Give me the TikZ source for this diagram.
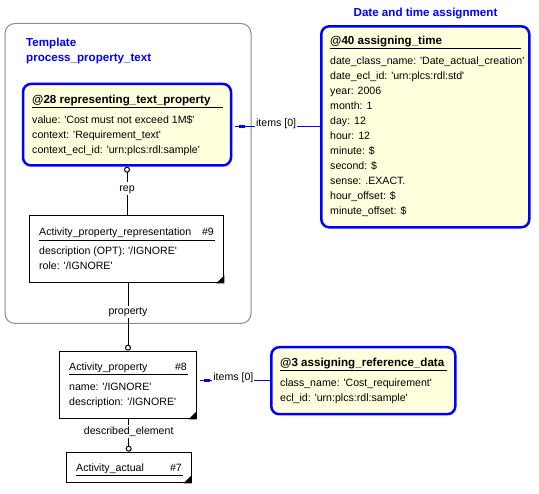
\documentclass[tikz,border=0pt]{standalone}
\usepackage{fontspec}
\setmainfont{Liberation Sans}[Ligatures=TeXOff]
\usetikzlibrary{arrows.meta}
\definecolor{instfill}{RGB}{255,255,221}
\definecolor{tmplgray}{RGB}{140,140,140}
\tikzset{
    tmpl/.style={draw=tmplgray, line width=1pt, rounded corners=10pt, inner sep=0pt},
    inst/.style={draw=blue, fill=instfill, line width=2.5pt, rounded corners=8pt, inner sep=0pt},
    ent/.style={draw=black, fill=white, line width=1pt, inner sep=0pt},
    hdr/.style={anchor=base west, inner sep=0pt, font=\fontsize{11.6}{13}\selectfont\bfseries},
    attr/.style={anchor=base west, inner sep=0pt, font=\fontsize{10.6}{12}\selectfont},
    title/.style={hdr, text=blue},
    lbl/.style={fill=white, inner sep=1pt, text height=8pt, text depth=2.5pt, font=\fontsize{10.6}{12}\selectfont},
    rel/.style={draw, line width=1pt, {Circle[open,length=6pt]}-},
    items/.style={draw=blue, line width=1pt, shorten >=3pt},
    tipsq/.style={fill=blue, inner sep=0pt, minimum width=6pt, minimum height=3pt}
}
\begin{document}
\begin{tikzpicture}[x=1pt, y=-1pt]
    \useasboundingbox (0,0) rectangle (539,494);
    % Template frame
    \node[tmpl, minimum width=246pt, minimum height=300pt] (tpl) at (128,173.5) {};
    \node[title] (tpl-a) at (26,47) {Template};
    \node[title] (tpl-b) at (26,61.5) {process\_property\_text};
    \node[title, anchor=base] (dta) at (425.5,17) {Date and time assignment};
    % Boxes
    \node[inst, minimum width=208pt, minimum height=81.5pt] (p28) at (127,124.7) {};
    \node[inst, minimum width=208pt, minimum height=201pt] (p40) at (425.3,126.8) {};
    \node[inst, minimum width=184pt, minimum height=67pt] (p3) at (363.3,380.7) {};
    \node[ent, minimum width=194pt, minimum height=67.3pt] (apr) at (126.8,249.2) {};
    \node[ent, minimum width=136.4pt, minimum height=67.6pt] (ap) at (128,385) {};
    \node[ent, minimum width=125pt, minimum height=30.6pt] (aa) at (128.7,467.5) {};
    \foreach \e in {apr,ap,aa}
        \fill (\e.south east) -- ++(-8,0) -- ++(8,-8) -- cycle;
    % @28
    \node[hdr] (p28-h) at (32,103.3) {@28 representing\_text\_property};
    \draw[line width=1pt] (32,107.3) -- (223,107.3);
    \node[attr] (p28-a) at (32,123.5) {value: 'Cost must not exceed 1M\$'};
    \node[attr] (p28-b) at (32,138.5) {context: 'Requirement\_text'};
    \node[attr] (p28-c) at (32,153.5) {context\_ecl\_id: 'urn:plcs:rdl:sample'};
    % @40
    \node[hdr] (p40-h) at (330,45) {@40 assigning\_time};
    \draw[line width=1pt] (330,49) -- (521,49);
    \foreach \t [count=\i from 0] in {date\_class\_name: 'Date\_actual\_creation',
        date\_ecl\_id: 'urn:plcs:rdl:std', year: 2006, month: 1, day: 12, hour: 12,
        minute: \$, second: \$, sense: .EXACT., hour\_offset: \$, minute\_offset: \$}
        \node[attr] (p40-\i) at (330,65+15*\i) {\t};
    % @3
    \node[hdr] (p3-h) at (280,367) {@3 assigning\_reference\_data};
    \draw[line width=1pt] (280,371) -- (447,371);
    \node[attr] (p3-a) at (280,386.5) {class\_name: 'Cost\_requirement'};
    \node[attr] (p3-b) at (280,401.5) {ecl\_id: 'urn:plcs:rdl:sample'};
    % #9
    \node[attr] (apr-h) at (39,236) {Activity\_property\_representation};
    \node[attr, anchor=base east] (apr-n) at (214,236) {\#9};
    \draw[line width=1pt] (39,240.5) -- (215,240.5);
    \node[attr] (apr-a) at (39,255) {description (OPT): '/IGNORE'};
    \node[attr] (apr-b) at (39,270) {role: '/IGNORE'};
    % #8
    \node[attr] (ap-h) at (69,371) {Activity\_property};
    \node[attr, anchor=base east] (ap-n) at (187,371) {\#8};
    \draw[line width=1pt] (69,375) -- (188,375);
    \node[attr] (ap-a) at (69,391) {name: '/IGNORE'};
    \node[attr] (ap-b) at (69,406) {description: '/IGNORE'};
    % #7
    \node[attr] (aa-h) at (76,471.5) {Activity\_actual};
    \node[attr, anchor=base east] (aa-n) at (182,471.5) {\#7};
    \draw[line width=1pt] (76,476) -- (183,476);
    % Connectors
    \draw[rel] (p28.south) -- node[lbl, pos=0.446] (l-rep) {rep} (p28.south |- apr.north);
    \draw[rel] (ap.north) -- node[lbl, pos=0.571] (l-prop) {property} (ap.north |- apr.south);
    \draw[rel] (aa.north) -- node[lbl, pos=0.63] (l-de) {described\_element} (aa.north |- ap.south);
    \draw[items] (p40.west) -- node[lbl, anchor=base] (l-i40) {items [0]} (p28.east |- p40.west)
        node[tipsq, pos=1, xshift=10pt] (s40) {};
    \draw[items] (p3.west) -- node[lbl, anchor=base] (l-i3) {items [0]} (ap.east |- p3.west)
        node[tipsq, pos=1, xshift=10pt] (s3) {};
\end{tikzpicture}
\end{document}
